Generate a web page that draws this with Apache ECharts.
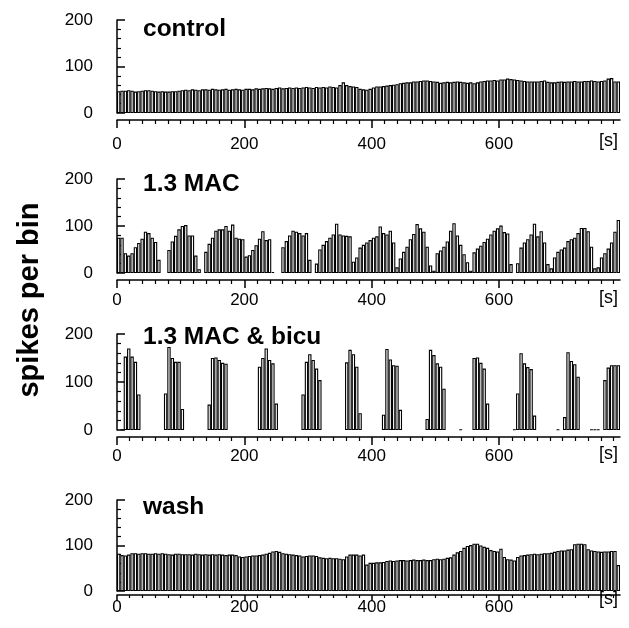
<!DOCTYPE html>
<html><head><meta charset="utf-8">
<script src="https://cdn.jsdelivr.net/npm/echarts@6/dist/echarts.min.js"></script>
<style>html,body{margin:0;padding:0;background:#fff}#c{width:629px;height:628px}</style>
</head><body><div id="c"></div>
<script>
// histogram bins (150 bins across the recorded span)
const binIndex = [];
for (let i = 0; i < 150; i++) binIndex.push(i);
const X_MAX = 790;
const xMajorTicks = [0, 200, 400, 600];
const xMinorStep = 20;
const xMinorTicks = [];
for (let t = xMinorStep; t < X_MAX; t += xMinorStep) if (t % 200) xMinorTicks.push(t);
const yTickLabels = [0, 100, 200];
const panelTitles = ['control', '1.3 MAC', '1.3 MAC & bicu', 'wash'];
const yAxisTitle = 'spikes per bin';
const xUnit = '[s]';

const control = [
  47,48,48,49,48,46,47,48,49,49,
  48,47,46,47,46,46,47,47,48,49,
  50,49,51,50,49,51,51,50,52,51,
  50,51,52,50,51,52,51,50,52,52,
  51,53,52,53,54,53,52,54,55,53,
  54,55,54,55,54,55,56,55,54,56,
  55,56,55,57,56,55,60,66,60,58,
  57,56,52,51,50,52,55,57,57,58,
  59,60,61,62,64,65,66,66,68,68,
  69,70,70,69,68,67,65,66,67,66,
  67,68,67,66,65,66,64,66,68,69,
  70,70,71,70,72,72,74,73,72,71,
  70,69,68,68,68,68,69,70,67,66,
  66,67,68,67,68,68,69,68,68,69,
  69,70,69,68,69,70,74,75,68,68
];
const mac = [
  75,75,42,37,42,55,64,73,88,85,
  75,66,28,null,null,49,67,79,93,100,
  102,80,80,37,8,null,45,62,75,90,
  93,93,100,90,103,75,73,72,35,38,
  49,59,73,89,70,72,2,null,null,55,
  68,80,90,88,85,80,85,28,null,20,
  50,60,68,75,82,105,82,80,79,78,
  24,33,54,60,65,70,75,78,99,85,
  82,90,65,12,31,45,56,72,83,104,
  95,88,56,16,5,42,48,56,67,90,
  106,80,60,40,23,5,44,52,58,66,
  73,82,90,95,101,87,84,19,null,21,
  54,65,72,82,105,78,89,65,19,10,
  33,45,50,54,68,72,75,85,96,96,
  89,56,10,12,33,42,52,65,88,113
];
const macBicu = [
  null,1,153,170,153,142,74,null,null,null,
  null,null,null,null,76,173,150,142,142,44,
  null,null,null,null,null,null,null,53,150,151,
  146,140,138,null,null,null,null,null,null,null,
  null,null,132,150,170,146,139,55,null,null,
  null,null,null,null,null,74,142,158,146,128,
  104,null,null,null,null,null,null,null,141,167,
  158,132,35,null,null,null,null,null,null,32,
  169,147,135,134,42,null,null,null,null,null,
  null,null,23,167,156,139,132,86,null,null,
  null,null,1,null,null,null,150,151,140,128,
  55,null,null,null,null,null,null,null,1,76,
  160,139,131,127,30,null,null,null,null,null,
  null,1,null,27,162,144,137,111,null,null,
  null,1,1,1,null,104,130,135,135,135
];
const wash = [
  82,79,78,80,83,83,82,83,83,82,
  82,83,82,83,82,81,80,82,82,81,
  81,81,80,82,81,80,81,80,81,80,
  81,80,79,80,80,79,76,75,76,77,
  78,78,79,80,82,84,87,88,86,83,
  82,81,80,79,78,76,77,78,78,77,
  74,73,72,73,72,72,71,70,76,80,
  80,80,78,80,58,62,62,63,63,64,
  66,67,66,67,68,68,67,68,69,68,
  68,69,68,68,70,71,70,71,73,74,
  80,85,88,95,99,101,104,104,100,97,
  95,90,88,87,93,75,70,69,67,75,
  78,79,80,81,82,81,82,83,83,84,
  86,88,89,89,91,92,103,104,104,103,
  92,89,88,87,86,87,87,88,88,57
];
const panelData = [control, mac, macBicu, wash];

const FONT = "'Liberation Sans', Arial, sans-serif";
const tops = [20, 179, 334, 500];
const heights = [93, 94, 96, 91];
const xOffset = [7, 7, 7, 4];
const xMargin = [16, 12, 11, 4];
const majLen = [8, 8, 8, 6];
const minLen = [4, 4, 4, 3];
const LEFT = 117, RIGHT_EDGE = 620;

const grid = [], xAxis = [], yAxis = [], series = [], graphic = [];
panelData.forEach((vals, i) => {
  grid.push({left: LEFT, width: RIGHT_EDGE - LEFT, top: tops[i], height: heights[i], containLabel: false});
  xAxis.push({gridIndex: i, type: 'category', data: binIndex, show: false, boundaryGap: true});
  xAxis.push({gridIndex: i, type: 'value', min: 0, max: X_MAX, position: 'bottom', offset: xOffset[i],
    axisLine: {show: true, onZero: false, lineStyle: {color: '#000', width: 1.5}},
    axisTick: {show: true, customValues: xMajorTicks, length: majLen[i], lineStyle: {color: '#000', width: 1.5}},
    axisLabel: {show: true, customValues: xMajorTicks, color: '#000', fontSize: 17, fontFamily: FONT, margin: xMargin[i]},
    splitLine: {show: false}});
  xAxis.push({gridIndex: i, type: 'value', min: 0, max: X_MAX, position: 'bottom', offset: xOffset[i],
    axisLine: {show: false, onZero: false},
    axisTick: {show: true, customValues: xMinorTicks, length: minLen[i], lineStyle: {color: '#000', width: 1.2}},
    axisLabel: {show: false}, splitLine: {show: false}});
  yAxis.push({gridIndex: i, type: 'value', min: 0, max: 200, interval: 100, position: 'left', offset: 13,
    axisLine: {show: true, lineStyle: {color: '#000', width: 1.5}},
    axisTick: {show: true, inside: true, length: 8, lineStyle: {color: '#000', width: 1.5}},
    minorTick: {show: true, splitNumber: 5, length: 4, lineStyle: {color: '#000', width: 1.2}},
    axisLabel: {color: '#000', fontSize: 17, fontFamily: FONT, margin: 11,
      formatter: v => (yTickLabels.indexOf(v) >= 0 ? String(v) : '')},
    splitLine: {show: false}});
  series.push({type: 'bar', xAxisIndex: 3 * i, yAxisIndex: i, data: vals,
    barCategoryGap: '0%', barGap: '0%', silent: true,
    itemStyle: {color: '#fff', borderColor: '#000', borderWidth: 1.1}});
});

const titleY = [29, 184, 337, 507];
const unitY = [141, 298, 454, 599];
panelTitles.forEach((t, i) => {
  graphic.push({type: 'text', x: 143, y: titleY[i],
    style: {text: t, fill: '#000', font: 'bold 24.5px ' + FONT, textAlign: 'left', textVerticalAlign: 'middle', align: 'left', verticalAlign: 'middle'}});
  graphic.push({type: 'text', x: 618, y: unitY[i],
    style: {text: xUnit, fill: '#000', font: '18px ' + FONT, textAlign: 'right', textVerticalAlign: 'middle', align: 'right', verticalAlign: 'middle'}});
});
graphic.push({type: 'text', x: 30, y: 300, rotation: Math.PI / 2,
  style: {text: yAxisTitle, fill: '#000', font: 'bold 29px ' + FONT, textAlign: 'center', textVerticalAlign: 'middle', align: 'center', verticalAlign: 'middle'}});

const chart = echarts.init(document.getElementById('c'), null, {renderer: 'canvas'});
chart.setOption({animation: false, backgroundColor: '#fff', grid, xAxis, yAxis, series, graphic});
</script>
</body></html>
